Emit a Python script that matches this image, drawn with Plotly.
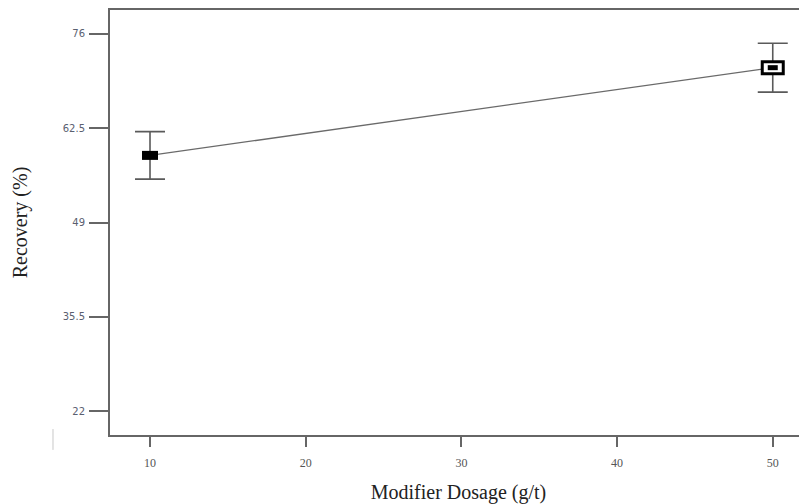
import plotly.graph_objects as go

dosage = [10, 50]
recovery = [58.6, 71.15]
recovery_err = [3.4, 3.5]
x_ticks = [10, 20, 30, 40, 50]
y_ticks = [22, 35.5, 49, 62.5, 76]
y_tick_labels = ["22", "35.5", "49", "62.5", "76"]

fig = go.Figure()
fig.add_trace(go.Scatter(
    x=dosage, y=recovery, mode="lines",
    line=dict(color="#6a6a6a", width=1.3),
    error_y=dict(type="data", array=recovery_err, visible=True,
                 color="#5a5a5a", thickness=1.6, width=15),
    showlegend=False, hoverinfo="skip",
))

# marker for low level: solid black rectangle
fig.add_shape(type="rect", xref="x", yref="y", xsizemode="pixel", ysizemode="pixel",
              xanchor=dosage[0], yanchor=recovery[0], x0=-8, x1=8, y0=-4.5, y1=4.5,
              fillcolor="black", line=dict(width=0))
# marker for high level: outlined box with inner black rectangle
fig.add_shape(type="rect", xref="x", yref="y", xsizemode="pixel", ysizemode="pixel",
              xanchor=dosage[1], yanchor=recovery[1], x0=-10.5, x1=10.5, y0=-6, y1=6,
              fillcolor="white", line=dict(color="black", width=3))
fig.add_shape(type="rect", xref="x", yref="y", xsizemode="pixel", ysizemode="pixel",
              xanchor=dosage[1], yanchor=recovery[1], x0=-5, x1=5, y0=-2.5, y1=2.5,
              fillcolor="black", line=dict(width=0))

# small stray vertical mark at lower left
fig.add_shape(type="line", xref="paper", yref="paper", x0=-0.0818, x1=-0.0818,
              y0=0.014, y1=-0.035, line=dict(color="#c8c8c8", width=1))

fig.update_layout(
    width=799, height=496,
    margin=dict(l=102, r=0, t=1, b=67),
    plot_bgcolor="white", paper_bgcolor="white",
    xaxis=dict(range=[7.43, 52.2], tickvals=x_ticks, ticks="outside", ticklen=10,
               tickwidth=1.5, tickcolor="#666", showline=True, linecolor="#666",
               linewidth=2, mirror=True, showgrid=False, zeroline=False,
               tickfont=dict(family="Liberation Serif", size=12, color="#555"),
               ticklabelstandoff=6,
               title=dict(text="Modifier Dosage (g/t)",
                          font=dict(family="Liberation Serif", size=20, color="#222"),
                          standoff=20)),
    yaxis=dict(range=[18.6, 79.4], tickvals=y_ticks, ticktext=y_tick_labels,
               ticks="outside", ticklen=19, tickwidth=1.5, tickcolor="#666",
               showline=True, linecolor="#666", linewidth=2, showgrid=False,
               zeroline=False, ticklabelstandoff=2,
               tickfont=dict(family="DejaVu Sans", size=10, color="#5a6070"),
               title=dict(text="Recovery (%)",
                          font=dict(family="Liberation Serif", size=20, color="#222"),
                          standoff=30)),
)

fig.write_html("out.html")
